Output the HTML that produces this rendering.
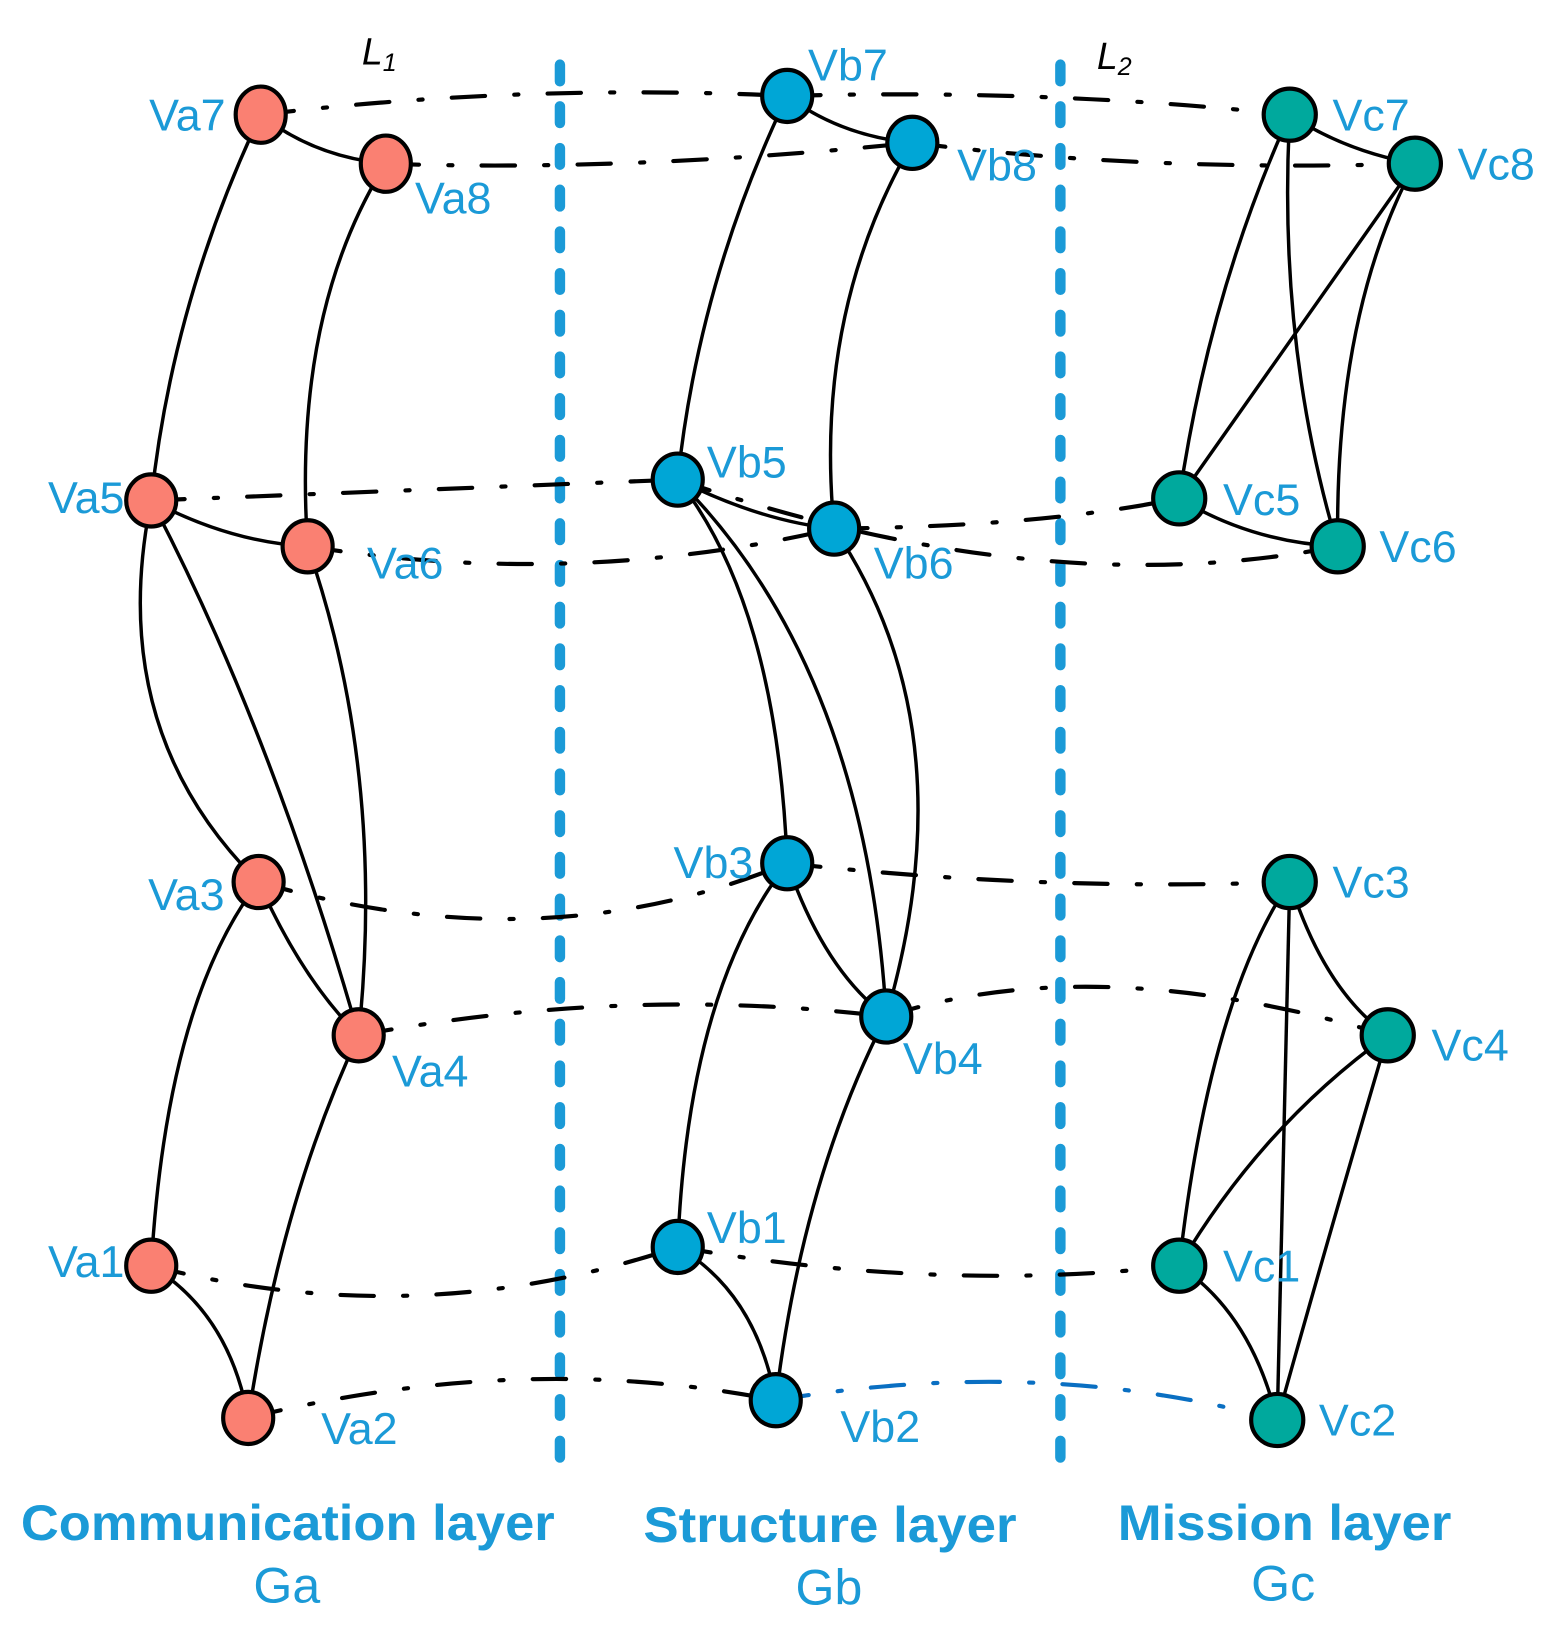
<!DOCTYPE html>
<html><head><meta charset="utf-8"><style>
html,body{margin:0;padding:0;background:#fff;width:1564px;height:1640px;overflow:hidden}
svg{display:block}
text{font-family:"Liberation Sans",sans-serif}
</style></head><body>
<svg width="1564" height="1640" viewBox="0 0 1500 1573" xmlns="http://www.w3.org/2000/svg">
<g stroke="#1b9ad7" stroke-width="10" stroke-linecap="round" stroke-dasharray="16 24" fill="none">
<line x1="537" y1="62" x2="537" y2="1400"/>
<line x1="1017" y1="62" x2="1017" y2="1400"/>
</g>
<g stroke="#000" stroke-width="4" fill="none" stroke-dasharray="32 28 4 28" stroke-linecap="round">
<path d="M250,110 Q500,80 755,92"/>
<path d="M755,92 Q1000,85 1237,110"/>
<path d="M370,157 Q600,165 875,137"/>
<path d="M875,137 Q1100,165 1357,157"/>
<path d="M145,480 Q400,470 650,460"/>
<path d="M650,460 Q1000,580 1283,524"/>
<path d="M295,524 Q550,565 800,507"/>
<path d="M800,507 Q1000,505 1131,478"/>
<path d="M248,846 Q520,925 755,828"/>
<path d="M755,828 Q1000,855 1237,846"/>
<path d="M344,993 Q600,945 850,975"/>
<path d="M850,975 Q1050,910 1331,993"/>
<path d="M145,1214 Q400,1280 650,1196"/>
<path d="M650,1196 Q900,1240 1131,1214"/>
<path d="M238,1360 Q500,1295 744,1343"/>
</g>
<path d="M744,1343 Q1000,1300 1225,1362" stroke="#0a6fc2" stroke-width="4" fill="none" stroke-dasharray="32 28 4 28" stroke-linecap="round"/>
<g stroke="#000" stroke-width="3.3" fill="none">
<path d="M250,110 Q300,150 370,157"/>
<path d="M250,110 Q165,290 145,480"/>
<path d="M370,157 Q280,300 295,524"/>
<path d="M145,480 Q220,520 295,524"/>
<path d="M145,480 Q100,700 248,846"/>
<path d="M145,480 Q260,700 344,993"/>
<path d="M295,524 Q370,740 344,993"/>
<path d="M248,846 Q290,940 344,993"/>
<path d="M248,846 Q160,960 145,1214"/>
<path d="M344,993 Q270,1150 238,1360"/>
<path d="M145,1214 Q220,1260 238,1360"/>

<path d="M755,92 Q805,130 875,137"/>
<path d="M755,92 Q670,270 650,460"/>
<path d="M875,137 Q780,300 800,507"/>
<path d="M650,460 Q730,500 800,507"/>
<path d="M650,460 Q745,580 755,828"/>
<path d="M650,460 Q830,640 850,975"/>
<path d="M800,507 Q930,700 850,975"/>
<path d="M755,828 Q790,930 850,975"/>
<path d="M755,828 Q660,950 650,1196"/>
<path d="M850,975 Q770,1130 744,1343"/>
<path d="M650,1196 Q725,1240 744,1343"/>

<path d="M1237,110 Q1290,145 1357,157"/>
<path d="M1237,110 Q1160,280 1131,478"/>
<path d="M1237,110 Q1225,330 1283,524"/>
<path d="M1357,157 L1131,478"/>
<path d="M1357,157 Q1280,300 1283,524"/>
<path d="M1131,478 Q1200,520 1283,524"/>
<path d="M1237,846 Q1270,950 1331,993"/>
<path d="M1237,846 Q1160,960 1131,1214"/>
<path d="M1237,846 L1225,1362"/>
<path d="M1331,993 Q1210,1080 1131,1214"/>
<path d="M1331,993 Q1270,1200 1225,1362"/>
<path d="M1131,1214 Q1200,1260 1225,1362"/>
</g>
<g stroke="#000" stroke-width="4">
<g fill="#fa8072">
<ellipse cx="250" cy="110" rx="24" ry="27"/><ellipse cx="370" cy="157" rx="24" ry="27"/>
<ellipse cx="145" cy="480" rx="24" ry="25"/><ellipse cx="295" cy="524" rx="24" ry="25"/>
<ellipse cx="248" cy="846" rx="24" ry="25"/><ellipse cx="344" cy="993" rx="24" ry="25"/>
<ellipse cx="145" cy="1214" rx="24" ry="25"/><ellipse cx="238" cy="1360" rx="24" ry="25"/>
</g>
<g fill="#00a6d6">
<ellipse cx="755" cy="92" rx="24" ry="25"/><ellipse cx="875" cy="137" rx="24" ry="25"/>
<ellipse cx="650" cy="460" rx="24" ry="25"/><ellipse cx="800" cy="507" rx="24" ry="25"/>
<ellipse cx="755" cy="828" rx="24" ry="25"/><ellipse cx="850" cy="975" rx="24" ry="25"/>
<ellipse cx="650" cy="1196" rx="24" ry="25"/><ellipse cx="744" cy="1343" rx="24" ry="25"/>
</g>
<g fill="#00a99d">
<circle cx="1237" cy="110" r="25"/><circle cx="1357" cy="157" r="25"/>
<circle cx="1131" cy="478" r="25"/><circle cx="1283" cy="524" r="25"/>
<circle cx="1237" cy="846" r="25"/><circle cx="1331" cy="993" r="25"/>
<circle cx="1131" cy="1214" r="25"/><circle cx="1225" cy="1362" r="25"/>
</g>
</g>
<g fill="#1b9ad7" font-size="43">
<text x="143" y="125">Va7</text><text x="398" y="205">Va8</text>
<text x="46" y="492">Va5</text><text x="352" y="555">Va6</text>
<text x="142" y="873">Va3</text><text x="376" y="1042">Va4</text>
<text x="46" y="1225">Va1</text><text x="308" y="1385">Va2</text>
<text x="775" y="77">Vb7</text><text x="918" y="173">Vb8</text>
<text x="678" y="458">Vb5</text><text x="838" y="555">Vb6</text>
<text x="646" y="842">Vb3</text><text x="866" y="1030">Vb4</text>
<text x="678" y="1192">Vb1</text><text x="806" y="1383">Vb2</text>
<text x="1278" y="125">Vc7</text><text x="1398" y="172">Vc8</text>
<text x="1173" y="494">Vc5</text><text x="1323" y="539">Vc6</text>
<text x="1278" y="861">Vc3</text><text x="1373" y="1017">Vc4</text>
<text x="1173" y="1229">Vc1</text><text x="1265" y="1377">Vc2</text>
</g>
<g fill="#1b9ad7" font-size="48">
<text x="243" y="1537">Ga</text><text x="763" y="1539">Gb</text><text x="1200" y="1535">Gc</text>
</g>
<g fill="#1b9ad7" font-size="48" font-weight="bold">
<text x="20" y="1477" textLength="512" lengthAdjust="spacingAndGlyphs">Communication layer</text>
<text x="617" y="1479" textLength="358" lengthAdjust="spacingAndGlyphs">Structure layer</text>
<text x="1072" y="1477" textLength="320" lengthAdjust="spacingAndGlyphs">Mission layer</text>
</g>
<g fill="#000" font-size="36" font-style="italic">
<text x="347" y="62">L<tspan font-size="24" dy="6">1</tspan></text>
<text x="1052" y="66">L<tspan font-size="24" dy="6">2</tspan></text>
</g>
</svg>
</body></html>
